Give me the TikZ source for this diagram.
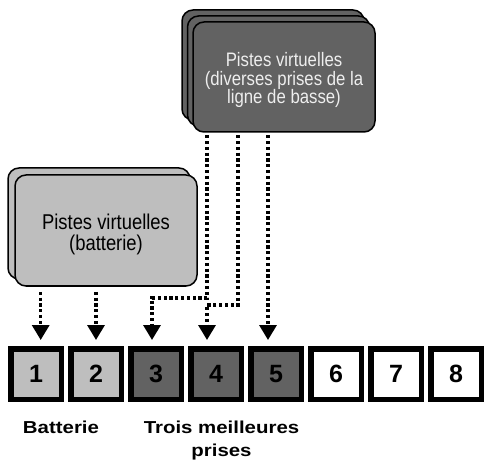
\documentclass[tikz,border=0pt]{standalone}
\usepackage{fontspec}
\setmainfont{Liberation Sans}
\newfontfamily\boxfont[FakeStretch=0.86]{Liberation Sans}
\newfontfamily\capfont[FakeStretch=1.18]{Liberation Sans}
\usetikzlibrary{arrows.meta,calc}
\definecolor{darkfill}{HTML}{626262}
\definecolor{lightfill}{HTML}{BEBEBE}
\definecolor{darktext}{HTML}{EEEEEE}
\tikzset{
  vbox/.style={draw=black, line width=1.5pt, rounded corners=11pt, minimum width=182pt, inner sep=0pt, align=center},
  darkbox/.style={vbox, fill=darkfill, minimum height=110pt},
  lightbox/.style={vbox, fill=lightfill, minimum height=111pt},
  darktxt/.style={text=darktext, align=center, inner sep=0pt, yshift=-3pt, font=\boxfont\fontsize{19.5}{18.3}\selectfont},
  lighttxt/.style={align=center, inner sep=0pt, yshift=-3.7pt, font=\boxfont\fontsize{21.4}{21}\selectfont},
  slot/.style={draw=black, line width=5.5pt, minimum size=50.5pt, inner sep=0pt, font=\bfseries\fontsize{25}{26}\selectfont},
  lightslot/.style={slot, fill=lightfill},
  darkslot/.style={slot, fill=darkfill},
  whiteslot/.style={slot, fill=white},
  dotarrow/.style={line width=3.3pt, dash pattern=on 3.2pt off 2.6pt, -{Triangle[length=15pt,width=17pt]}},
  caption/.style={font=\capfont\bfseries\fontsize{17.3}{23}\selectfont, align=center, inner sep=0pt}
}
\begin{document}
\begin{tikzpicture}[x=1pt,y=-1pt]
\useasboundingbox (0,0) rectangle (487,462);
% dark stacked boxes
\node[darkbox] (db3) at (273,65) {};
\node[darkbox] (db2) at (278.5,71) {};
\node[darkbox, label={[darktxt]center:Pistes virtuelles\\(diverses prises de la\\ligne de basse)}] (db) at (284,77) {};
% light stacked boxes
\node[lightbox] (lb2) at (99,223.5) {};
\node[lightbox, label={[lighttxt]center:Pistes virtuelles\\(batterie)}] (lb) at (106,230.5) {};
% slots
\node[lightslot] (s1) at (36,374) {1};
\node[lightslot] (s2) at (96,374) {2};
\node[darkslot] (s3) at (156,374) {3};
\node[darkslot] (s4) at (216,374) {4};
\node[darkslot] (s5) at (276,374) {5};
\node[whiteslot] (s6) at (336,374) {6};
\node[whiteslot] (s7) at (396,374) {7};
\node[whiteslot] (s8) at (456,374) {8};
% captions
\node[caption, anchor=base] (cb) at (61,433.5) {Batterie};
\node[caption] (ct) at (221.5,441) {Trois meilleures\\prises};
% arrows from light box
\draw[dotarrow] ([xshift=-65.3pt,yshift=-5pt]lb.south) -- ([xshift=4.7pt,yshift=6pt]s1.north);
\draw[dotarrow] ([xshift=-10pt,yshift=-5pt]lb.south) -- ([yshift=6pt]s2.north);
% arrows from dark box
\draw[dotarrow] ([xshift=-77pt,yshift=-2.5pt]db.south) |- ([xshift=-4pt,yshift=48pt]s3.north) -- ([xshift=-4pt,yshift=6pt]s3.north);
\draw[dotarrow] ([xshift=-46pt,yshift=-2.5pt]db.south) |- ([xshift=-9pt,yshift=41pt]s4.north) -- ([xshift=-9pt,yshift=6pt]s4.north);
\draw[dotarrow] ([xshift=-16pt,yshift=-2.5pt]db.south) -- ([xshift=-8pt,yshift=6pt]s5.north);
\end{tikzpicture}
\end{document}
